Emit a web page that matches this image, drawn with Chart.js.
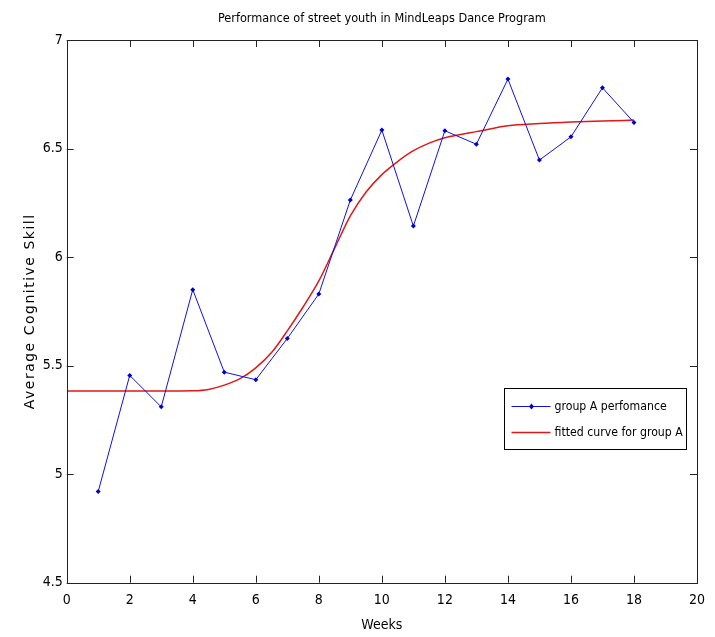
<!DOCTYPE html>
<html>
<head>
<meta charset="utf-8">
<script src="https://cdn.jsdelivr.net/npm/chart.js@4.4.0/dist/chart.umd.min.js"></script>
<style>
html, body { margin: 0; padding: 0; background: #fff; }
</style>
</head>
<body>
<canvas id="myChart" width="715" height="637"></canvas>
<script>
const WEEKS = [1, 2, 3, 4, 5, 6, 7, 8, 9, 10, 11, 12, 13, 14, 15, 16, 17, 18];
const GROUP_A = [4.92, 5.455, 5.31, 5.85, 5.47, 5.435, 5.625, 5.83, 6.263, 6.585, 6.143, 6.582, 6.52, 6.82, 6.447, 6.554, 6.78, 6.62];

const FIT_WEEKS = [0, 1, 2, 3, 4, 4.5, 5, 5.5, 6, 6.5, 7, 7.5, 8, 8.5, 9, 9.5, 10, 10.5, 11, 11.5, 12, 12.5, 13, 14, 15, 16, 17, 18];
const FIT_VALUES = [5.383, 5.383, 5.383, 5.383, 5.384, 5.39, 5.41, 5.44, 5.49, 5.56, 5.66, 5.77, 5.89, 6.04, 6.19, 6.30, 6.38, 6.44, 6.49, 6.525, 6.55, 6.565, 6.578, 6.605, 6.615, 6.622, 6.627, 6.631];

const X_TICKS = [0, 2, 4, 6, 8, 10, 12, 14, 16, 18, 20];
const Y_TICKS = [4.5, 5, 5.5, 6, 6.5, 7];

const NARROW = '"Liberation Sans Narrow", "DejaVu Sans Condensed", "Roboto Condensed", "Liberation Sans", sans-serif';
const ctx = document.getElementById('myChart');

Chart.defaults.font.family = NARROW;
Chart.defaults.color = '#000';

// matlab style box with inward ticks on all four sides
const frameTicks = {
    id: 'frameTicks',
    afterDatasetsDraw(chart, args, opts) {
        const {ctx, chartArea: a, scales: {x, y}} = chart;
        const len = opts.length;
        ctx.save();
        ctx.strokeStyle = opts.color;
        ctx.lineWidth = 1;
        ctx.beginPath();
        X_TICKS.forEach(v => {
            const px = Math.round(x.getPixelForValue(v)) + 0.5;
            ctx.moveTo(px, a.bottom); ctx.lineTo(px, a.bottom - len);
            ctx.moveTo(px, a.top); ctx.lineTo(px, a.top + len);
        });
        Y_TICKS.forEach(v => {
            const py = Math.round(y.getPixelForValue(v)) + 0.5;
            ctx.moveTo(a.left, py); ctx.lineTo(a.left + len, py);
            ctx.moveTo(a.right, py); ctx.lineTo(a.right - len, py);
        });
        ctx.stroke();
        ctx.strokeRect(Math.round(a.left) + 0.5, Math.round(a.top) + 0.5,
            Math.round(a.right - a.left), Math.round(a.bottom - a.top));
        ctx.restore();
    }
};

// the y label in the original is letter-spaced
const spacedTitle = {
    id: 'spacedTitle',
    afterLayout(chart, args, opts) {
        const s = chart.scales.y;
        if (s._spaced) return;
        const orig = s.drawTitle.bind(s);
        s.drawTitle = function() {
            this.ctx.save();
            this.ctx.letterSpacing = opts.spacing;
            orig();
            this.ctx.restore();
        };
        s._spaced = true;
    }
};

// legend box sitting inside the axes, like matlab's 'Location','East'
const boxLegend = {
    id: 'boxLegend',
    afterDraw(chart, args, opts) {
        const {ctx, chartArea: a} = chart;
        const w = opts.width, h = opts.height;
        const left = Math.round(a.right - opts.right - w) + 0.5;
        const top = Math.round(a.top + opts.top) + 0.5;
        ctx.save();
        ctx.fillStyle = '#fff';
        ctx.fillRect(left, top, w, h);
        ctx.strokeStyle = '#000';
        ctx.lineWidth = 1;
        ctx.strokeRect(left, top, w, h);
        ctx.font = opts.font;
        ctx.textBaseline = 'middle';
        ctx.textAlign = 'left';
        chart.data.datasets.forEach((ds, i) => {
            const cy = top + opts.rowTop + i * opts.rowGap;
            ctx.strokeStyle = ds.borderColor;
            ctx.lineWidth = ds.borderWidth;
            ctx.beginPath();
            ctx.moveTo(left + 7, cy);
            ctx.lineTo(left + 46, cy);
            ctx.stroke();
            if (ds.pointRadius > 0) {
                ctx.fillStyle = ds.pointBackgroundColor;
                ctx.beginPath();
                ctx.moveTo(left + 27, cy - 3);
                ctx.lineTo(left + 29.5, cy);
                ctx.lineTo(left + 27, cy + 3);
                ctx.lineTo(left + 24.5, cy);
                ctx.closePath();
                ctx.fill();
            }
            ctx.fillStyle = '#000';
            ctx.fillText(ds.label, left + 50, cy);
        });
        ctx.restore();
    }
};

new Chart(ctx, {
    type: 'line',
    data: {
        datasets: [{
            label: 'group A perfomance',
            data: WEEKS.map((w, i) => ({x: w, y: GROUP_A[i]})),
            borderColor: '#1010e0',
            borderWidth: 1,
            pointStyle: 'rectRot',
            pointRadius: 2.5,
            pointBackgroundColor: '#0000c8',
            pointBorderColor: '#0000c8',
            pointBorderWidth: 0,
            tension: 0
        }, {
            label: 'fitted curve for group A',
            data: FIT_WEEKS.map((w, i) => ({x: w, y: FIT_VALUES[i]})),
            borderColor: '#e01818',
            borderWidth: 1.5,
            pointRadius: 0,
            cubicInterpolationMode: 'monotone'
        }]
    },
    options: {
        responsive: false,
        animation: false,
        layout: { padding: { right: 18, top: 0, left: 0, bottom: 0 } },
        plugins: {
            legend: { display: false },
            tooltip: { enabled: false },
            title: {
                display: true,
                fullSize: false,
                text: 'Performance of street youth in MindLeaps Dance Program',
                font: { size: 12.6, weight: 'normal' },
                padding: { top: 11, bottom: 13.9 }
            },
            frameTicks: { length: 7, color: '#222' },
            spacedTitle: { spacing: '1.5px' },
            boxLegend: {
                width: 182, height: 61, right: 11, top: 348,
                rowTop: 18, rowGap: 26,
                font: '12.2px ' + NARROW
            }
        },
        scales: {
            x: {
                type: 'linear',
                min: 0,
                max: 20,
                afterFit(scale) { scale.height = 54.3; },
                afterBuildTicks(scale) { scale.ticks = X_TICKS.map(v => ({value: v})); },
                grid: { display: false, drawTicks: false },
                border: { display: false },
                ticks: {
                    padding: 9,
                    font: { size: 14 },
                    callback: v => String(v)
                },
                title: {
                    display: true,
                    text: 'Weeks',
                    font: { size: 14 },
                    padding: { top: 0, bottom: 3.6 }
                }
            },
            y: {
                type: 'linear',
                min: 4.5,
                max: 7,
                afterFit(scale) { scale.width = 66.7; },
                afterBuildTicks(scale) { scale.ticks = Y_TICKS.map(v => ({value: v})); },
                grid: { display: false, drawTicks: false },
                border: { display: false },
                ticks: {
                    padding: 4,
                    font: { size: 14 },
                    callback: v => String(v)
                },
                title: {
                    display: true,
                    text: 'Average Cognitive Skill',
                    font: { size: 14, family: '"DejaVu Sans", sans-serif' },
                    padding: { top: 21.6, bottom: 0 }
                }
            }
        }
    },
    plugins: [frameTicks, spacedTitle, boxLegend]
});
</script>
</body>
</html>
